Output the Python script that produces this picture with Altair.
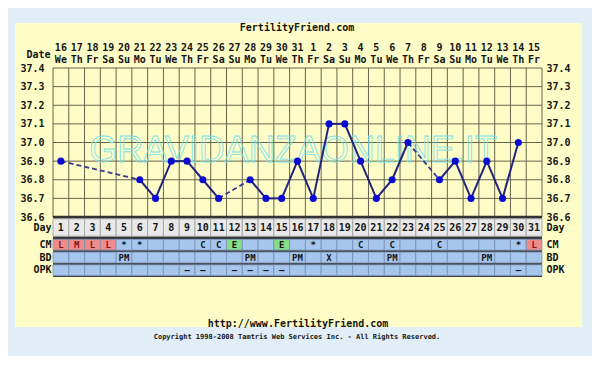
import altair as alt
import pandas as pd

# ---------------- data ----------------
DAYS = list(range(1, 32))
DATES = ["16", "17", "18", "19", "20", "21", "22", "23", "24", "25", "26", "27", "28", "29", "30", "31",
         "1", "2", "3", "4", "5", "6", "7", "8", "9", "10", "11", "12", "13", "14", "15"]
WEEKDAYS = ["We", "Th", "Fr", "Sa", "Su", "Mo", "Tu", "We", "Th", "Fr", "Sa", "Su", "Mo", "Tu", "We", "Th",
            "Fr", "Sa", "Su", "Mo", "Tu", "We", "Th", "Fr", "Sa", "Su", "Mo", "Tu", "We", "Th", "Fr"]
TEMPS = [36.9, None, None, None, None, 36.8, 36.7, 36.9, 36.9, 36.8, 36.7, None, 36.8, 36.7, 36.7, 36.9,
         36.7, 37.1, 37.1, 36.9, 36.7, 36.8, 37.0, None, 36.8, 36.9, 36.7, 36.9, 36.7, 37.0, None]
TEMP_TICKS = [36.6, 36.7, 36.8, 36.9, 37.0, 37.1, 37.2, 37.3, 37.4]
ROWS = ["CM", "BD", "OPK"]
CM = ["L", "M", "L", "L", "*", "*", "", "", "", "C", "C", "E", "", "", "E", "", "*", "", "", "C", "",
      "C", "", "", "C", "", "", "", "", "*", "L"]
BD = ["", "", "", "", "PM", "", "", "", "", "", "", "", "PM", "", "", "PM", "", "X", "", "", "", "PM",
      "", "", "", "", "", "PM", "", "", ""]
OPK = ["", "", "", "", "", "", "", "", "–", "–", "", "–", "–", "–", "–", "", "", "", "", "", "", "", "",
       "", "", "", "", "", "", "–", ""]
TITLE = "FertilityFriend.com"
WATERMARK = "GRAVIDANZAONLINE.IT"
FOOTER = "http://www.FertilityFriend.com"
COPYRIGHT = "Copyright 1998-2008 Tamtris Web Services Inc. - All Rights Reserved."

# ---------------- styles ----------------
MONO = "DejaVu Sans Mono"
YELLOW = "#fefdc8"
OUTER = "#e1eef7"
GRID = "#66644c"
DARK = "#333333"
INK = "#151515"
W = 489

# ---------------- derived tables ----------------
recorded = [(d, t) for d, t in zip(DAYS, TEMPS) if t is not None]
seg_rows = []
for (d1, t1), (d2, t2) in zip(recorded[:-1], recorded[1:]):
    seg_rows.append({"x1": d1, "y1": t1, "x2": d2, "y2": t2,
                     "kind": "solid" if d2 - d1 == 1 else "dash"})
seg_df = pd.DataFrame(seg_rows)
pts_df = pd.DataFrame({"day": [d for d, _ in recorded], "temp": [t for _, t in recorded]})
hgrid_df = pd.DataFrame({"t": TEMP_TICKS, "lo": DAYS[0] - 0.5, "hi": DAYS[-1] + 0.5})
bottom_df = pd.DataFrame({"t": [TEMP_TICKS[0]], "lo": [DAYS[0] - 0.5], "hi": [DAYS[-1] + 0.5]})
bounds = [DAYS[0] - 0.5] + [d + 0.5 for d in DAYS]
vgrid_df = pd.DataFrame({"b": bounds, "lo": TEMP_TICKS[0], "hi": TEMP_TICKS[-1]})
date_df = pd.DataFrame({"day": DAYS, "date": DATES, "wd": WEEKDAYS})
dummy = pd.DataFrame({"a": [0]})

day_df = pd.DataFrame({"day": DAYS, "lo": [d - 0.5 for d in DAYS], "hi": [d + 0.5 for d in DAYS],
                       "row": "Day"})
cell_rows = []
for row, vals in zip(ROWS, [CM, BD, OPK]):
    for d, v in zip(DAYS, vals):
        if row == "CM" and v in ("L", "M"):
            cat, tcat = "red", "red"
        elif row == "CM" and v == "E":
            cat, tcat = "green", "dark"
        else:
            cat, tcat = "blue", "dark"
        cell_rows.append({"row": row, "day": d, "lo": d - 0.5, "hi": d + 0.5, "text": v,
                          "cat": cat, "tcat": tcat})
cell_df = pd.DataFrame(cell_rows)

xscale = alt.Scale(domain=[DAYS[0] - 0.5, DAYS[-1] + 0.5], nice=False, zero=False)
yscale = alt.Scale(domain=[TEMP_TICKS[0], TEMP_TICKS[-1]], nice=False, zero=False)

lab = dict(labelFont=MONO, labelFontWeight="bold", labelFontSize=10, labelColor=INK,
           ticks=False, domain=False, grid=False, zindex=1)

left_axis = alt.Axis(orient="left", values=TEMP_TICKS, format=".1f", labelPadding=9,
                     labelOverlap=False, title="Date", titleAngle=0, titleAlign="right",
                     titleBaseline="middle", titleX=-3, titleY=-14, titleFont=MONO,
                     titleFontWeight="bold", titleFontSize=10, titleColor=INK, **lab)
right_axis = alt.Axis(orient="right", values=TEMP_TICKS, format=".1f", labelPadding=4,
                      labelOverlap=False, title=None, **lab)

# ---------------- temperature panel ----------------
bg = alt.Chart(dummy).mark_rect(color=YELLOW).encode(
    x=alt.value(-38), x2=alt.value(529), y=alt.value(-45), y2=alt.value(259))
hgrid = alt.Chart(hgrid_df).mark_rule(color=GRID, strokeWidth=1).encode(
    x=alt.X("lo:Q", scale=xscale, axis=None), x2="hi:Q",
    y=alt.Y("t:Q", scale=yscale, axis=None))
vgrid = alt.Chart(vgrid_df).mark_rule(color=GRID, strokeWidth=1).encode(
    x=alt.X("b:Q", scale=xscale, axis=None),
    y=alt.Y("lo:Q", scale=yscale, axis=None), y2="hi:Q")
bottom = alt.Chart(bottom_df).mark_rule(color=DARK, strokeWidth=2.5).encode(
    x=alt.X("lo:Q", scale=xscale, axis=None), x2="hi:Q",
    y=alt.Y("t:Q", scale=yscale, axis=None))
watermark = alt.Chart(dummy).mark_text(
    text=WATERMARK, font="Liberation Sans", fontSize=36, fill="transparent",
    stroke="#72e2ec", strokeWidth=0.8, align="center", baseline="middle").encode(
    x=alt.value(240), y=alt.value(83))
solid = alt.Chart(seg_df).transform_filter("datum.kind == 'solid'").mark_rule(
    color="#23237e", strokeWidth=2).encode(
    x=alt.X("x1:Q", scale=xscale, axis=None), x2="x2:Q",
    y=alt.Y("y1:Q", scale=yscale, axis=left_axis), y2="y2:Q")
dash = alt.Chart(seg_df).transform_filter("datum.kind == 'dash'").mark_rule(
    color="#3a3a8a", strokeWidth=1.8, strokeDash=[5, 3]).encode(
    x=alt.X("x1:Q", scale=xscale, axis=None), x2="x2:Q",
    y=alt.Y("y1:Q", scale=yscale, axis=None), y2="y2:Q")
points = alt.Chart(pts_df).mark_circle(size=50, color="#0a0ad0", opacity=1).encode(
    x=alt.X("day:Q", scale=xscale, axis=None),
    y=alt.Y("temp:Q", scale=yscale, axis=right_axis))
date_lab = alt.Chart(date_df).mark_text(
    font=MONO, fontWeight="bold", fontSize=10, color=INK, baseline="middle").encode(
    x=alt.X("day:Q", scale=xscale, axis=None), y=alt.value(-20), text="date:N")
wd_lab = alt.Chart(date_df).mark_text(
    font=MONO, fontWeight="bold", fontSize=10, color=INK, baseline="middle").encode(
    x=alt.X("day:Q", scale=xscale, axis=None), y=alt.value(-8), text="wd:N")
title = alt.Chart(dummy).mark_text(
    text=TITLE, font=MONO, fontWeight="bold", fontSize=10, color=INK,
    align="center", baseline="middle").encode(x=alt.value(244), y=alt.value(-40))

top = alt.layer(bg, hgrid, vgrid, bottom, watermark, dash, solid, points,
                date_lab, wd_lab, title).properties(width=W, height=149)

# ---------------- day row ----------------
row_lab = dict(labelFont=MONO, labelFontWeight="bold", labelFontSize=10, labelColor=INK,
               ticks=False, domain=False, grid=False, title=None)
day_scale = alt.Scale(domain=["Day"], paddingInner=0, paddingOuter=0.1)
day_cells = alt.Chart(day_df).mark_rect(fill="#e9e9e9", stroke="#a9a9a9", strokeWidth=1).encode(
    x=alt.X("lo:Q", scale=xscale, axis=None), x2="hi:Q",
    y=alt.Y("row:N", scale=day_scale, axis=alt.Axis(orient="left", labelPadding=2, **row_lab)))
day_text = alt.Chart(day_df).mark_text(font=MONO, fontWeight="bold", fontSize=10,
                                       color=INK).encode(
    x=alt.X("day:Q", scale=xscale, axis=None),
    y=alt.Y("row:N", scale=day_scale, axis=alt.Axis(orient="right", labelPadding=4, **row_lab)),
    text="day:N")
day_panel = alt.layer(day_cells, day_text).properties(
    width=W, height=21, view=alt.ViewBackground(fill=DARK, strokeWidth=0))

# ---------------- CM / BD / OPK rows ----------------
row_scale = alt.Scale(domain=ROWS, paddingInner=0.15, paddingOuter=0.1)
cells = alt.Chart(cell_df).mark_rect(stroke="#7d93b8", strokeWidth=0.8).encode(
    x=alt.X("lo:Q", scale=xscale, axis=None), x2="hi:Q",
    y=alt.Y("row:N", scale=row_scale, axis=alt.Axis(orient="left", labelPadding=2, **row_lab)),
    fill=alt.Fill("cat:N", scale=alt.Scale(domain=["blue", "red", "green"],
                                          range=["#a6c6ee", "#ee8c8c", "#86de86"]), legend=None))
cell_text = alt.Chart(cell_df).transform_filter("datum.text != ''").mark_text(
    font=MONO, fontWeight="bold", fontSize=9).encode(
    x=alt.X("day:Q", scale=xscale, axis=None),
    y=alt.Y("row:N", scale=row_scale, axis=alt.Axis(orient="right", labelPadding=4, **row_lab)),
    text="text:N",
    color=alt.Color("tcat:N", scale=alt.Scale(domain=["dark", "red"], range=[INK, "#8b1414"]),
                    legend=None))
footer = alt.Chart(dummy).mark_text(
    text=FOOTER, font=MONO, fontWeight="bold", fontSize=10, color=INK,
    align="center", baseline="middle").encode(x=alt.value(245), y=alt.value(86))
copyright_txt = alt.Chart(dummy).mark_text(
    text=COPYRIGHT, font=MONO, fontWeight="bold", fontSize=7, color=INK,
    align="center", baseline="middle").encode(x=alt.value(244), y=alt.value(99))
marks_panel = alt.layer(cells, cell_text, footer, copyright_txt).properties(
    width=W, height=39, view=alt.ViewBackground(fill=DARK, strokeWidth=0))

chart = alt.vconcat(top, day_panel, marks_panel, spacing=0, bounds="flush").properties(
    padding={"left": 7, "top": 15, "right": 10, "bottom": 16},
    background=OUTER,
).configure_view(strokeWidth=0)

chart.save("out.html", embed_options={"renderer": "svg", "actions": False})
